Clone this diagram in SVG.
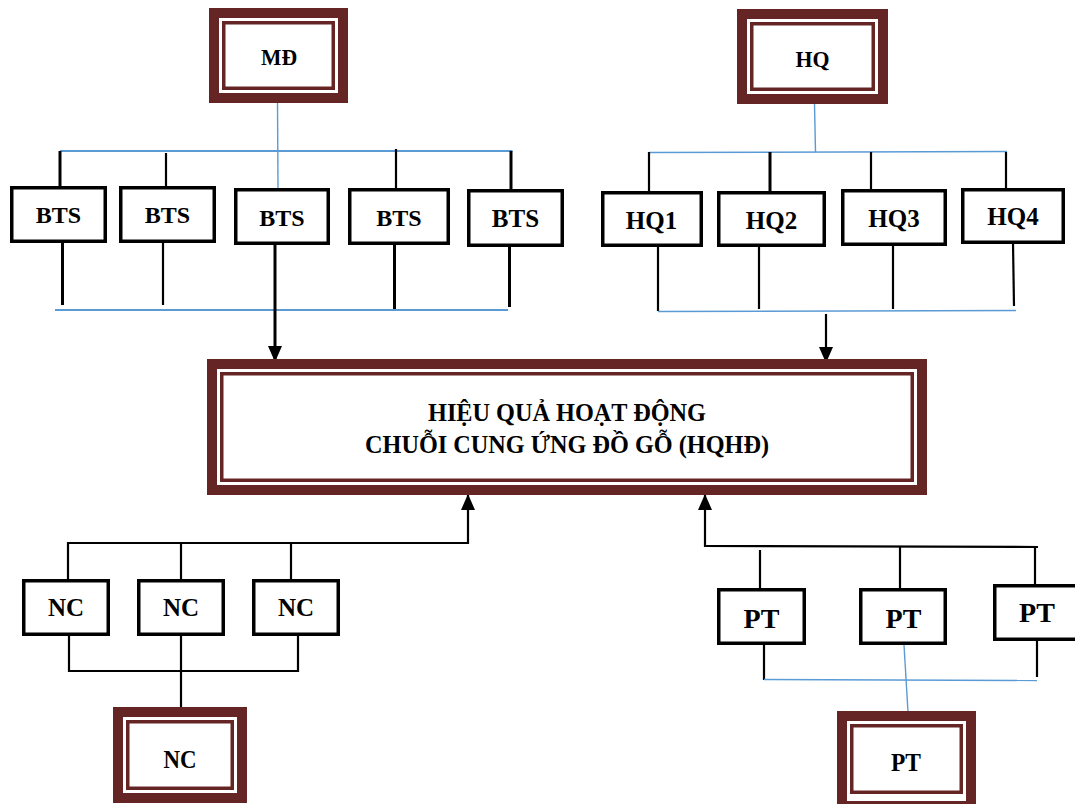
<svg xmlns="http://www.w3.org/2000/svg" width="1075" height="804" viewBox="0 0 1075 804">
<style>
.t{font-family:"Liberation Serif","Times New Roman",serif;font-weight:bold;fill:#000;text-anchor:middle}
.box{fill:#fff;stroke:#000;stroke-width:3.5}
.outer{fill:#fff;stroke:#652525;stroke-width:10}
.inner{fill:none;stroke:#652525;stroke-width:3.5}
.k{stroke:#000;stroke-width:2.2;fill:none}
.kt{stroke:#000;stroke-width:3;fill:none}
.b{stroke:#5b9bd5;stroke-width:2;fill:none}
.bt{stroke:#5b9bd5;stroke-width:1.4;fill:none}
</style>
<defs>
<marker id="arr" markerUnits="userSpaceOnUse" markerWidth="16" markerHeight="14" viewBox="0 0 16 14" refX="16" refY="7" orient="auto"><path d="M0,0 L16,7 L0,14 z" fill="#000"/></marker>
</defs>
<rect width="1075" height="804" fill="#fff"/>

<g id="connectors">
<line class="bt" x1="277.5" y1="103" x2="278" y2="188"/>
<line class="b" x1="60" y1="151" x2="512.5" y2="151"/>
<line class="kt" x1="60" y1="151" x2="60" y2="187"/>
<line class="k" x1="166" y1="153" x2="166" y2="187"/>
<line class="k" x1="396" y1="149" x2="396" y2="189"/>
<line class="kt" x1="511" y1="151" x2="511" y2="190"/>
<line class="kt" x1="62.5" y1="242" x2="62.5" y2="305"/>
<line class="k" x1="163" y1="242" x2="163" y2="305"/>
<line class="kt" x1="394.5" y1="244" x2="394.5" y2="309"/>
<line class="kt" x1="509.5" y1="246" x2="509.5" y2="307"/>
<line class="b" x1="55" y1="310" x2="508" y2="310"/>
<line class="kt" x1="275" y1="244" x2="275" y2="362" marker-end="url(#arr)"/>
<line class="bt" x1="814.5" y1="104" x2="815.5" y2="152"/>
<line class="bt" x1="649" y1="152.5" x2="1007" y2="151.5"/>
<line class="k" x1="649" y1="152" x2="649" y2="191"/>
<line class="kt" x1="770" y1="152" x2="770" y2="191"/>
<line class="k" x1="871" y1="152" x2="871" y2="189"/>
<line class="k" x1="1006" y1="152" x2="1006" y2="188"/>
<line class="k" x1="658" y1="246" x2="658" y2="311"/>
<line class="k" x1="759" y1="246" x2="759" y2="309"/>
<line class="k" x1="893" y1="245" x2="893" y2="309"/>
<line class="k" x1="1013" y1="243" x2="1014" y2="306"/>
<line class="bt" x1="658" y1="311.5" x2="1016" y2="310.5"/>
<line class="k" x1="826" y1="314" x2="826" y2="363" marker-end="url(#arr)"/>
<polyline class="k" points="68,579 68,543 468,543 468,494" marker-end="url(#arr)"/>
<line class="k" x1="181" y1="543" x2="181" y2="579"/>
<line class="k" x1="291" y1="543" x2="291" y2="579"/>
<polyline class="k" points="69,635 69,671 298,671 298,635"/>
<line class="k" x1="181" y1="635" x2="181" y2="709"/>
<polyline class="k" points="1038,547 705,546 705,494" marker-end="url(#arr)"/>
<line class="k" x1="760" y1="550" x2="760" y2="588"/>
<line class="k" x1="900" y1="546" x2="900" y2="588"/>
<line class="k" x1="1035" y1="546" x2="1035" y2="584"/>
<line class="k" x1="764" y1="644" x2="764" y2="680"/>
<line class="k" x1="1037" y1="640" x2="1037" y2="677"/>
<line class="bt" x1="764" y1="679.5" x2="1037" y2="680.5"/>
<line class="bt" x1="904" y1="645" x2="908" y2="712"/>
</g>

<g id="MD">
<rect class="outer" x="214" y="13" width="129" height="85"/>
<rect class="inner" x="223.75" y="22.75" width="109.5" height="65.5"/>
<text class="t" x="279" y="65" font-size="23" textLength="36" lengthAdjust="spacingAndGlyphs">MĐ</text>
</g>
<g id="HQ">
<rect class="outer" x="742" y="14" width="141" height="85"/>
<rect class="inner" x="751.75" y="23.75" width="121.5" height="65.5"/>
<text class="t" x="812.5" y="66.5" font-size="23" textLength="34" lengthAdjust="spacingAndGlyphs">HQ</text>
</g>

<g id="BTS1"><rect class="box" x="11.75" y="187.75" width="93.5" height="53.5"/><text class="t" x="58.5" y="223" font-size="24">BTS</text></g>
<g id="BTS2"><rect class="box" x="120.75" y="187.75" width="93.5" height="53.5"/><text class="t" x="167.5" y="223" font-size="24">BTS</text></g>
<g id="BTS3"><rect class="box" x="235.75" y="189.75" width="92.5" height="53.5"/><text class="t" x="282" y="226" font-size="24">BTS</text></g>
<g id="BTS4"><rect class="box" x="349.75" y="189.75" width="98.5" height="53.5"/><text class="t" x="399" y="226" font-size="24">BTS</text></g>
<g id="BTS5"><rect class="box" x="468.75" y="190.75" width="93.5" height="54.5"/><text class="t" x="515.5" y="227" font-size="25">BTS</text></g>

<g id="HQ1"><rect class="box" x="602.75" y="192.75" width="98.5" height="52.5"/><text class="t" x="651.5" y="228.5" font-size="25">HQ1</text></g>
<g id="HQ2"><rect class="box" x="718.75" y="192.75" width="105.5" height="52.5"/><text class="t" x="771.5" y="228.5" font-size="25">HQ2</text></g>
<g id="HQ3"><rect class="box" x="842.75" y="190.75" width="102.5" height="53.5"/><text class="t" x="894" y="227" font-size="25">HQ3</text></g>
<g id="HQ4"><rect class="box" x="962.75" y="189.75" width="100.5" height="52.5"/><text class="t" x="1013" y="225" font-size="25">HQ4</text></g>

<g id="HQHD">
<rect class="outer" x="212" y="364" width="710" height="126"/>
<rect class="inner" x="221.75" y="373.75" width="690.5" height="106.5"/>
<text class="t" x="567" y="421" font-size="26" textLength="278" lengthAdjust="spacingAndGlyphs">HIỆU QUẢ HOẠT ĐỘNG</text>
<text class="t" x="567" y="453" font-size="26" textLength="404" lengthAdjust="spacingAndGlyphs">CHUỖI CUNG ỨNG ĐỒ GỖ (HQHĐ)</text>
</g>

<g id="NC1"><rect class="box" x="23.75" y="580.75" width="84.5" height="53.5"/><text class="t" x="66" y="616" font-size="25">NC</text></g>
<g id="NC2"><rect class="box" x="138.75" y="580.75" width="84.5" height="53.5"/><text class="t" x="181" y="616" font-size="25">NC</text></g>
<g id="NC3"><rect class="box" x="253.75" y="580.75" width="84.5" height="53.5"/><text class="t" x="296" y="616" font-size="25">NC</text></g>
<g id="NC">
<rect class="outer" x="118" y="712" width="124" height="86"/>
<rect class="inner" x="127.75" y="721.75" width="104.5" height="66.5"/>
<text class="t" x="180" y="768" font-size="26" textLength="33" lengthAdjust="spacingAndGlyphs">NC</text>
</g>

<g id="PT1"><rect class="box" x="718.75" y="589.75" width="85.5" height="53.5"/><text class="t" x="761.5" y="627.5" font-size="28">PT</text></g>
<g id="PT2"><rect class="box" x="860.75" y="589.75" width="84.5" height="53.5"/><text class="t" x="903.5" y="627.5" font-size="28">PT</text></g>
<g id="PT3"><rect class="box" x="994.75" y="585.75" width="90" height="53.5"/><text class="t" x="1037" y="621.5" font-size="28">PT</text></g>
<g id="PT">
<rect class="outer" x="842" y="716" width="129" height="90"/>
<rect class="inner" x="851.75" y="725.75" width="109.5" height="66.5"/>
<text class="t" x="906" y="771" font-size="26" textLength="30" lengthAdjust="spacingAndGlyphs">PT</text>
</g>
</svg>
